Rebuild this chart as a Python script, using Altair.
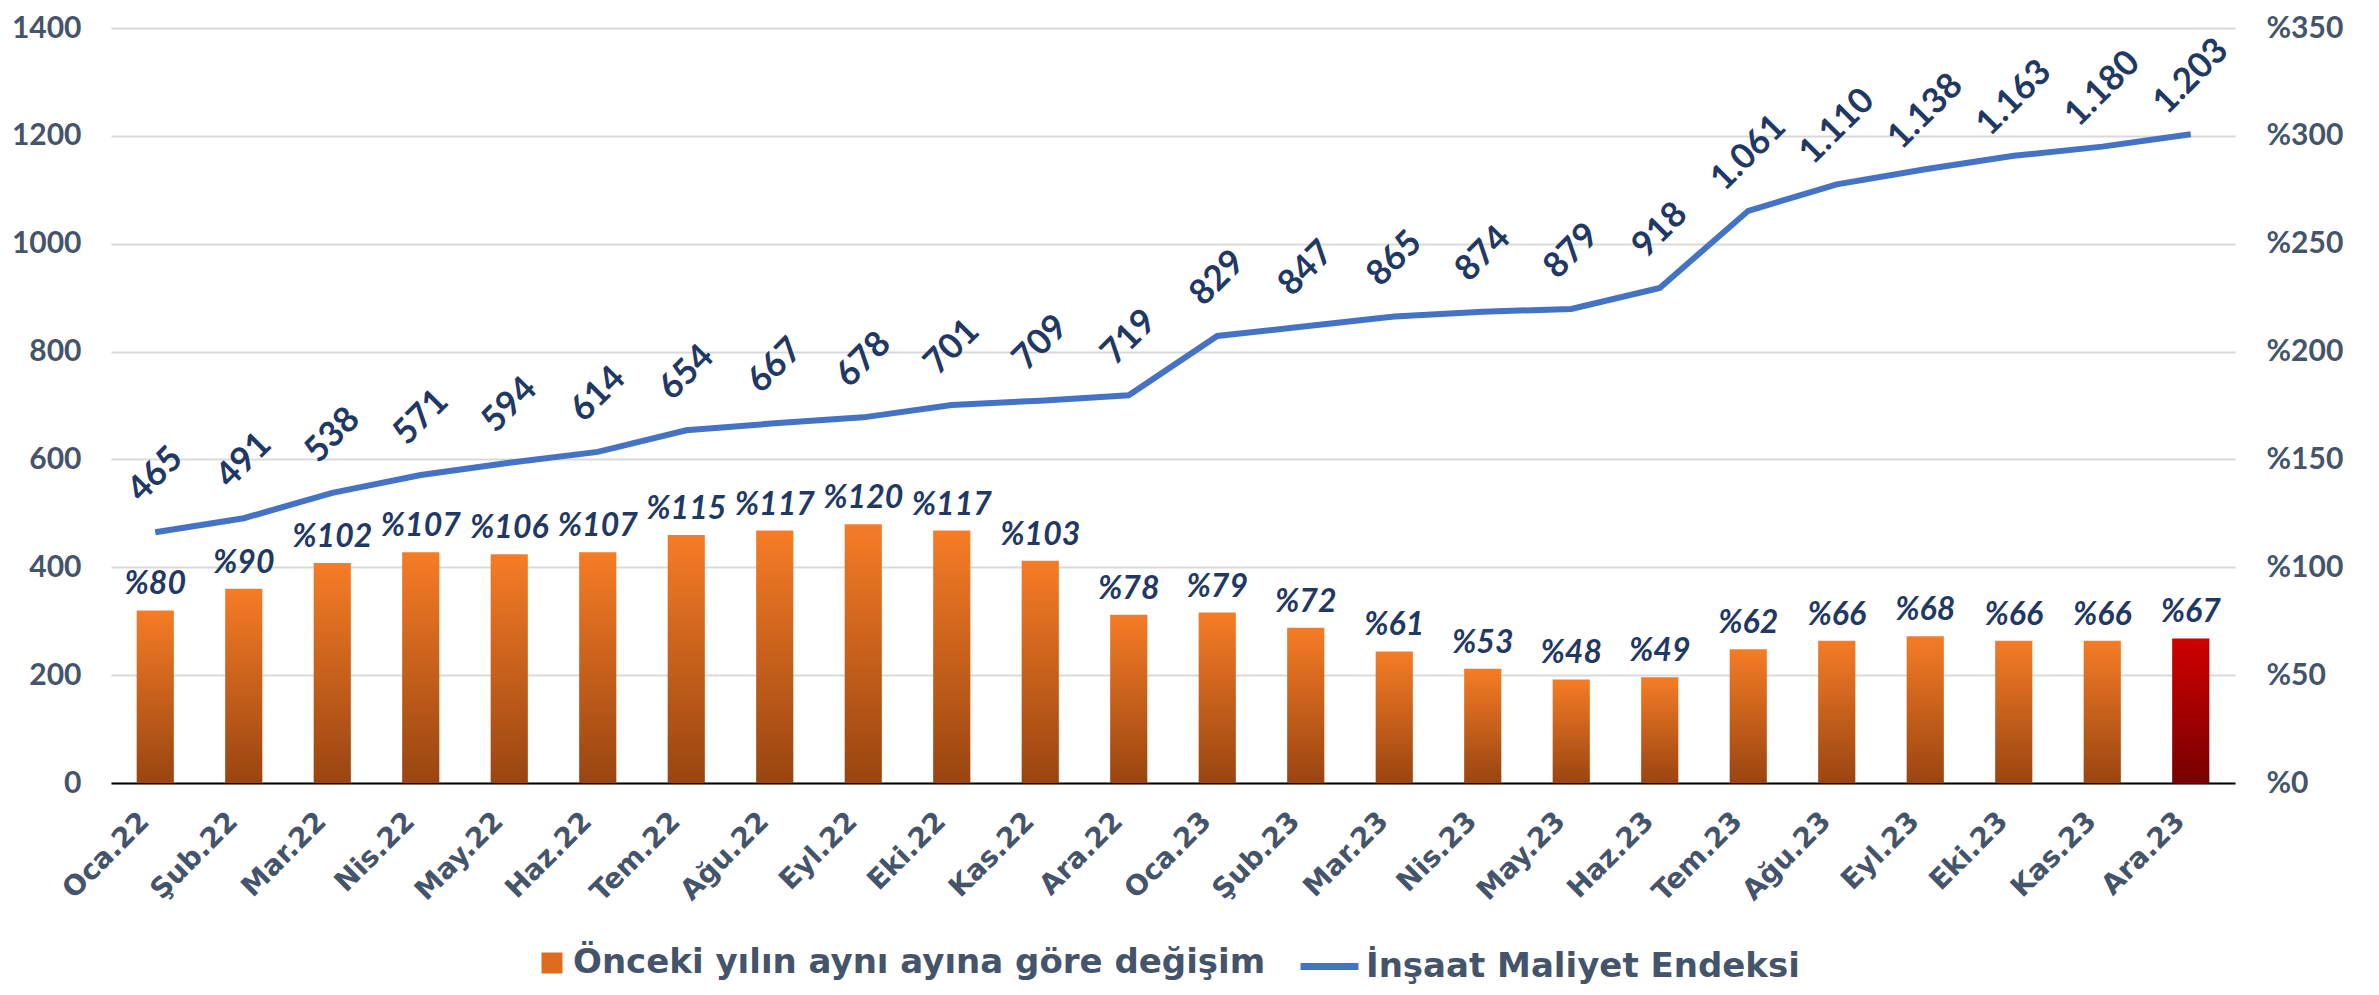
import altair as alt
import pandas as pd

months = ["Oca.22", "Şub.22", "Mar.22", "Nis.22", "May.22", "Haz.22", "Tem.22", "Ağu.22",
          "Eyl.22", "Eki.22", "Kas.22", "Ara.22", "Oca.23", "Şub.23", "Mar.23", "Nis.23",
          "May.23", "Haz.23", "Tem.23", "Ağu.23", "Eyl.23", "Eki.23", "Kas.23", "Ara.23"]
pct_change = [80, 90, 102, 107, 106, 107, 115, 117, 120, 117, 103, 78,
              79, 72, 61, 53, 48, 49, 62, 66, 68, 66, 66, 67]
cost_index = [465, 491, 538, 571, 594, 614, 654, 667, 678, 701, 709, 719,
              829, 847, 865, 874, 879, 918, 1061, 1110, 1138, 1163, 1180, 1203]
highlight_month = "Ara.23"

bar_name = "Önceki yılın aynı ayına göre değişim"
line_name = "İnşaat Maliyet Endeksi"

df = pd.DataFrame({
    "month": months,
    "pct": pct_change,
    "idx": cost_index,
    "pct_label": [f"%{v}" for v in pct_change],
    "idx_label": [f"{v:,}".replace(",", ".") for v in cost_index],
    "bar_series": [bar_name] * len(months),
    "line_series": [line_name] * len(months),
})

FONT = "Lato"
WIDE_FONT = "DejaVu Sans"
TICK_COLOR = "#44546A"
LABEL_COLOR = "#1F3864"

x_enc = alt.X("month:N", sort=months, title=None,
              scale=alt.Scale(paddingInner=0.58, paddingOuter=0.29),
              axis=alt.Axis(labelAngle=-45, labelPadding=24, labelOffset=-20, ticks=False,
                            domain=True, domainColor="#000000", domainWidth=2,
                            grid=False, labelFont=WIDE_FONT, labelFontSize=28))

y_pct = alt.Y("pct:Q", title=None,
              scale=alt.Scale(domain=[0, 350], nice=False),
              axis=alt.Axis(orient="right", values=list(range(0, 351, 50)),
                            labelExpr="'%' + datum.value", grid=False,
                            domain=False, ticks=False, labelPadding=31))

y_idx = alt.Y("idx:Q", title=None,
              scale=alt.Scale(domain=[0, 1400], nice=False),
              axis=alt.Axis(orient="left", values=list(range(0, 1401, 200)), format="d",
                            grid=True, domain=False, ticks=False, labelPadding=30))

orange_grad = alt.Gradient(
    gradient="linear",
    stops=[alt.GradientStop(color="#994511", offset=0),
           alt.GradientStop(color="#F67C26", offset=1)],
    x1=0, x2=0, y1=1, y2=0)
red_grad = alt.Gradient(
    gradient="linear",
    stops=[alt.GradientStop(color="#780000", offset=0),
           alt.GradientStop(color="#D00000", offset=1)],
    x1=0, x2=0, y1=1, y2=0)

base = alt.Chart(df)

bars = base.mark_bar(fill=orange_grad).encode(x=x_enc, y=y_pct).transform_filter(
    alt.datum.month != highlight_month)
bar_red = base.mark_bar(fill=red_grad).encode(x=x_enc, y=y_pct).transform_filter(
    alt.datum.month == highlight_month)
bar_legend = base.mark_bar(opacity=0).encode(
    x=x_enc, y=y_pct,
    fill=alt.Fill("bar_series:N",
                  scale=alt.Scale(domain=[bar_name], range=["#DD6C1E"]),
                  legend=alt.Legend(title=None, symbolType="square", symbolSize=441,
                                    symbolOpacity=1, symbolStrokeWidth=0,
                                    orient="none", legendX=424, legendY=918)))
bar_text = base.mark_text(font=FONT, fontSize=32, fontWeight="bold", fontStyle="italic",
                          color=LABEL_COLOR, baseline="alphabetic", dy=-16).encode(
    x=x_enc, y=y_pct, text="pct_label:N")

bar_group = alt.layer(bars, bar_red, bar_legend, bar_text)

line = base.mark_line(strokeWidth=6).encode(
    x=x_enc, y=y_idx,
    stroke=alt.Stroke("line_series:N",
                      scale=alt.Scale(domain=[line_name], range=["#4472C4"]),
                      legend=alt.Legend(title=None, symbolType="stroke",
                                        symbolSize=3364, symbolStrokeWidth=7,
                                        orient="none", legendX=1186, legendY=906)))
line_text = base.mark_text(font=FONT, fontSize=35, fontWeight="bold",
                           color=LABEL_COLOR, angle=315, align="center", baseline="middle",
                           radius=58, theta=0).encode(
    x=x_enc, y=y_idx, text="idx_label:N")

line_group = alt.layer(line, line_text)

chart = alt.layer(bar_group, line_group).resolve_scale(
    y="independent", fill="independent", stroke="independent"
).properties(
    width=2124, height=755,
    autosize=alt.AutoSizeParams(type="none"),
    padding={"left": 103, "top": 20, "right": 136, "bottom": 204},
).configure_view(stroke=None).configure_axis(
    labelFont=FONT, labelFontSize=30, labelFontWeight="bold", labelColor=TICK_COLOR,
    gridColor="#D9D9D9", gridWidth=2,
).configure_legend(
    labelFont=WIDE_FONT, labelFontSize=34, labelFontWeight="bold",
    labelColor=TICK_COLOR, labelLimit=0, labelOffset=4, padding=0,
)

chart.save("out.html", embed_options={"renderer": "svg", "actions": False})
